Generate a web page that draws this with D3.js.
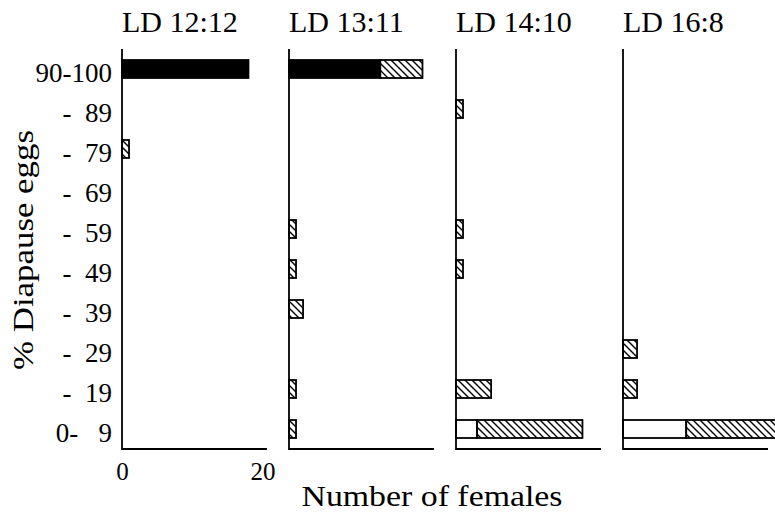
<!DOCTYPE html>
<html>
<head>
<meta charset="utf-8">
<script src="https://cdn.jsdelivr.net/npm/d3@7"></script>
<style>
  body { margin: 0; background: #fff; }
</style>
</head>
<body>
<svg id="chart" width="775" height="515"></svg>
<script>
// categories (top to bottom) and panels
var categories = ["90-100", "-\u00a0\u00a089", "-\u00a0\u00a079", "-\u00a0\u00a069", "-\u00a0\u00a059",
                  "-\u00a0\u00a049", "-\u00a0\u00a039", "-\u00a0\u00a029", "-\u00a0\u00a019", "0-\u00a0\u00a0\u00a09"];
var panels = ["LD 12:12", "LD 13:11", "LD 14:10", "LD 16:8"];

// number of females per category, one row per panel
var blackVals = [
  [18, 0, 0, 0, 0, 0, 0, 0, 0, 0],
  [13, 0, 0, 0, 0, 0, 0, 0, 0, 0],
  [0, 0, 0, 0, 0, 0, 0, 0, 0, 0],
  [0, 0, 0, 0, 0, 0, 0, 0, 0, 0]
];
var whiteVals = [
  [0, 0, 0, 0, 0, 0, 0, 0, 0, 0],
  [0, 0, 0, 0, 0, 0, 0, 0, 0, 0],
  [0, 0, 0, 0, 0, 0, 0, 0, 0, 3],
  [0, 0, 0, 0, 0, 0, 0, 0, 0, 9]
];
var hatchVals = [
  [0, 0, 1, 0, 0, 0, 0, 0, 0, 0],
  [6, 0, 0, 0, 1, 1, 2, 0, 1, 1],
  [0, 1, 0, 0, 1, 1, 0, 0, 5, 15],
  [0, 0, 0, 0, 0, 0, 0, 2, 2, 14]
];
var xTicks = [0, 20];

var serif = "'Liberation Serif', serif";
var svg = d3.select("#chart");

var defs = svg.append("defs");
var pat = defs.append("pattern")
  .attr("id", "hatch")
  .attr("patternUnits", "userSpaceOnUse")
  .attr("width", 7).attr("height", 7);
pat.append("rect").attr("width", 7).attr("height", 7).attr("fill", "#fff");
pat.append("path")
  .attr("d", "M0,0 L7,7 M-2,5 L2,9 M5,-2 L9,2")
  .attr("stroke", "#000").attr("stroke-width", 1.4);

var panelX = d3.scaleBand().domain(panels).range([122, 790]).paddingInner(0);
var y = d3.scaleBand().domain(categories).range([49, 449]).paddingInner(0.55).paddingOuter(0.275);
var x = d3.scaleLinear().domain([0, 20]).range([0, 140.5]);
var axisLen = 145;

// y tick labels
svg.append("g")
  .selectAll("text")
  .data(categories)
  .enter().append("text")
  .attr("x", 112)
  .attr("y", d => y(d) + y.bandwidth() / 2 + 13)
  .attr("text-anchor", "end")
  .style("font-family", serif)
  .style("font-size", "27px")
  .style("white-space", "pre")
  .text(d => d);

panels.forEach(function(p, pi) {
  var g = svg.append("g").attr("transform", "translate(" + panelX(p) + ",0)");

  g.append("text")
    .attr("x", 0).attr("y", 32)
    .style("font-family", serif)
    .style("font-size", "30px")
    .text(p);

  var rows = categories.map((c, i) => ({
    cat: c, b: blackVals[pi][i], w: whiteVals[pi][i], h: hatchVals[pi][i]
  }));

  var segs = [];
  rows.forEach(function(r) {
    var x0 = 0;
    [["b", "#000"], ["w", "#fff"], ["h", "url(#hatch)"]].forEach(function(s) {
      var v = r[s[0]];
      if (v > 0) {
        segs.push({cat: r.cat, x0: x0, x1: x0 + v, fill: s[1]});
        x0 += v;
      }
    });
  });

  g.selectAll(".bar")
    .data(segs)
    .enter().append("rect")
    .attr("class", "bar")
    .attr("x", d => x(d.x0))
    .attr("y", d => y(d.cat))
    .attr("width", d => x(d.x1) - x(d.x0))
    .attr("height", y.bandwidth())
    .attr("fill", d => d.fill)
    .attr("stroke", "#000")
    .attr("stroke-width", 1.8);

  g.append("line")
    .attr("x1", 0).attr("x2", 0)
    .attr("y1", 49).attr("y2", 450)
    .attr("stroke", "#000").attr("stroke-width", 1.8);
  g.append("line")
    .attr("x1", 0).attr("x2", axisLen)
    .attr("y1", 449).attr("y2", 449)
    .attr("stroke", "#000").attr("stroke-width", 1.8);

  if (pi === 0) {
    var ax = g.append("g")
      .attr("transform", "translate(0,449)")
      .call(d3.axisBottom(x).tickValues(xTicks).tickSize(0).tickPadding(13).tickFormat(d3.format("d")));
    ax.select(".domain").remove();
    ax.selectAll("text")
      .attr("fill", "#000")
      .style("font-family", serif)
      .style("font-size", "25px");
  }
});

svg.append("text")
  .attr("transform", "translate(33,250) rotate(-90)")
  .attr("text-anchor", "middle")
  .attr("textLength", 240)
  .attr("lengthAdjust", "spacingAndGlyphs")
  .style("font-family", serif)
  .style("font-size", "29px")
  .text("% Diapause eggs");

svg.append("text")
  .attr("x", 432).attr("y", 506)
  .attr("text-anchor", "middle")
  .attr("textLength", 261)
  .attr("lengthAdjust", "spacingAndGlyphs")
  .style("font-family", serif)
  .style("font-size", "29px")
  .text("Number of females");
</script>
</body>
</html>
